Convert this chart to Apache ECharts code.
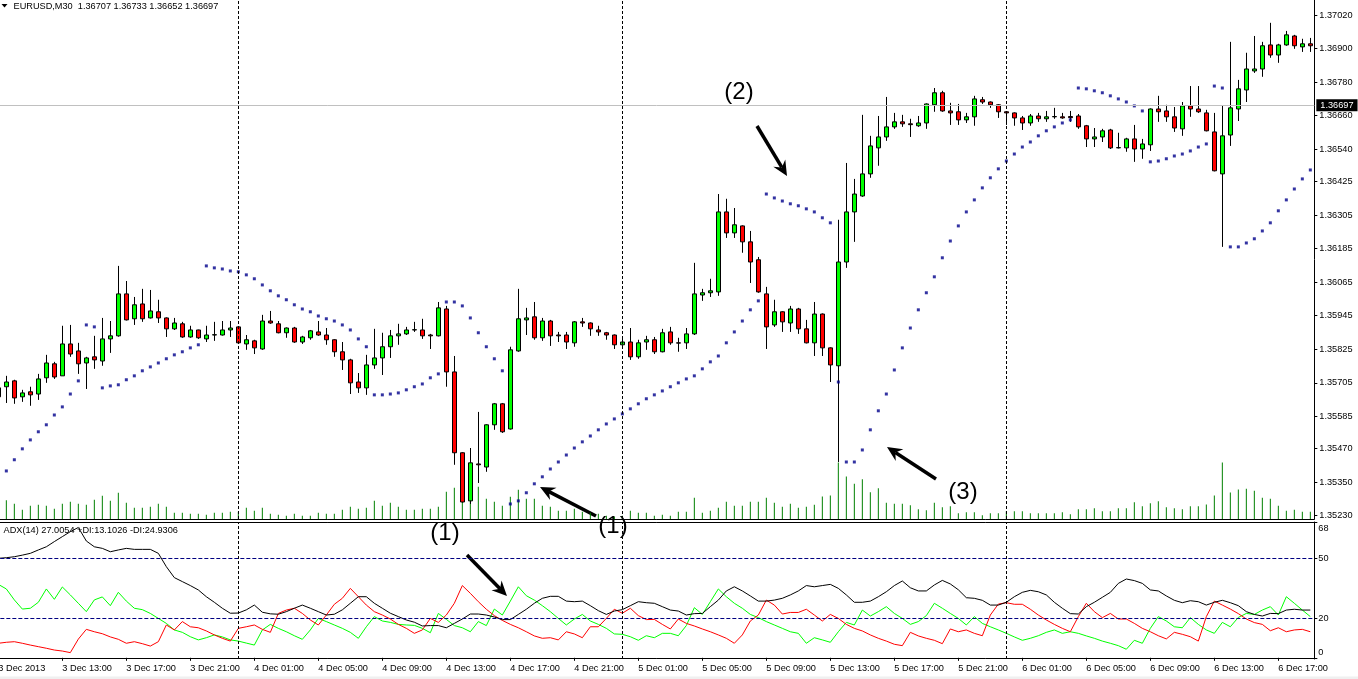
<!DOCTYPE html>
<html><head><meta charset="utf-8">
<script src="https://cdn.jsdelivr.net/npm/echarts@6/dist/echarts.min.js"></script>
<style>html,body{margin:0;padding:0;background:#fff;overflow:hidden}#c{width:1358px;height:679px}</style>
</head><body><div id="c"></div>
<script>
// ---------- DATA ----------
const timeTickLabels = ["3 Dec 2013","3 Dec 13:00","3 Dec 17:00","3 Dec 21:00","4 Dec 01:00","4 Dec 05:00","4 Dec 09:00","4 Dec 13:00","4 Dec 17:00","4 Dec 21:00","5 Dec 01:00","5 Dec 05:00","5 Dec 09:00","5 Dec 13:00","5 Dec 17:00","5 Dec 21:00","6 Dec 01:00","6 Dec 05:00","6 Dec 09:00","6 Dec 13:00","6 Dec 17:00"];
const priceTicks = [1.35230,1.35350,1.35470,1.35585,1.35705,1.35825,1.35945,1.36065,1.36185,1.36305,1.36425,1.36540,1.36660,1.36780,1.36900,1.37020];
const adxTicks = [0,20,50,68];
const adxLevels = [20,50];
const daySeparators = ["4 Dec 00:00","5 Dec 00:00","6 Dec 00:00"];
const lastPrice = 1.36697;

const opens = [1.35687,1.35691,1.35712,1.35655,1.35673,1.35665,1.35723,1.35773,1.35730,1.35844,
1.35819,1.35776,1.35798,1.35783,1.35862,1.35873,1.36023,1.35934,1.35987,1.35937,
1.35959,1.35937,1.35898,1.35916,1.35869,1.35894,1.35862,1.35876,1.35876,1.35894,
1.35905,1.35844,1.35855,1.35826,1.35926,1.35916,1.35884,1.35901,1.35851,1.35866,
1.35887,1.35876,1.35859,1.35816,1.35787,1.35708,1.35687,1.35769,1.35794,1.35834,
1.35873,1.35880,1.35894,1.35894,1.35876,1.35873,1.35969,1.35744,1.35455,1.35283,
1.35415,1.35404,1.35555,1.35630,1.35540,1.35819,1.35930,1.35941,1.35866,1.35926,
1.35876,1.35876,1.35848,1.35923,1.35919,1.35894,1.35884,1.35876,1.35841,1.35851,
1.35798,1.35851,1.35859,1.35816,1.35887,1.35848,1.35848,1.35880,1.36019,1.36027,
1.36030,1.36316,1.36241,1.36266,1.36209,1.36145,1.36023,1.35912,1.35959,1.35919,
1.35969,1.35898,1.35848,1.35951,1.35830,1.35766,1.36137,1.36316,1.36373,1.36452,
1.36545,1.36584,1.36620,1.36638,1.36631,1.36624,1.36634,1.36699,1.36742,1.36677,
1.36674,1.36645,1.36656,1.36717,1.36709,1.36699,1.36674,1.36670,1.36652,1.36634,
1.36659,1.36649,1.36656,1.36656,1.36657,1.36659,1.36624,1.36577,1.36584,1.36609,
1.36545,1.36545,1.36577,1.36541,1.36556,1.36684,1.36677,1.36656,1.36613,1.36695,
1.36684,1.36670,1.36602,1.36452,1.36591,1.36684,1.36752,1.36820,1.36827,1.36913,
1.36877,1.36913,1.36945,1.36906,1.36917];
const closes = [1.35655,1.35708,1.35651,1.35669,1.35662,1.35719,1.35776,1.35726,1.35844,1.35808,
1.35773,1.35794,1.35787,1.35862,1.35873,1.36023,1.35930,1.35984,1.35934,1.35962,
1.35937,1.35898,1.35919,1.35869,1.35894,1.35866,1.35876,1.35877,1.35894,1.35901,
1.35848,1.35859,1.35830,1.35926,1.35919,1.35884,1.35901,1.35851,1.35869,1.35891,
1.35876,1.35859,1.35816,1.35787,1.35705,1.35687,1.35769,1.35794,1.35834,1.35873,
1.35880,1.35894,1.35895,1.35873,1.35873,1.35973,1.35744,1.35455,1.35279,1.35419,
1.35412,1.35555,1.35630,1.35530,1.35823,1.35934,1.35937,1.35866,1.35926,1.35873,
1.35873,1.35851,1.35923,1.35919,1.35898,1.35887,1.35876,1.35841,1.35851,1.35798,
1.35848,1.35859,1.35816,1.35884,1.35848,1.35847,1.35880,1.36023,1.36027,1.36034,
1.36316,1.36241,1.36270,1.36209,1.36137,1.36030,1.35905,1.35959,1.35923,1.35969,
1.35898,1.35848,1.35951,1.35830,1.35769,1.36137,1.36316,1.36380,1.36452,1.36552,
1.36584,1.36620,1.36638,1.36631,1.36628,1.36634,1.36702,1.36742,1.36677,1.36670,
1.36645,1.36656,1.36720,1.36709,1.36699,1.36674,1.36670,1.36652,1.36634,1.36659,
1.36649,1.36656,1.36657,1.36652,1.36653,1.36620,1.36577,1.36584,1.36606,1.36545,
1.36546,1.36577,1.36541,1.36559,1.36684,1.36674,1.36656,1.36616,1.36695,1.36684,
1.36674,1.36606,1.36463,1.36588,1.36688,1.36756,1.36827,1.36827,1.36910,1.36877,
1.36913,1.36949,1.36910,1.36917,1.36910];
const lows = [1.35651,1.35633,1.35630,1.35637,1.35623,1.35644,1.35705,1.35719,1.35730,1.35798,
1.35737,1.35683,1.35755,1.35766,1.35812,1.35870,1.35928,1.35912,1.35923,1.35935,
1.35919,1.35869,1.35894,1.35866,1.35866,1.35862,1.35851,1.35855,1.35874,1.35869,
1.35846,1.35823,1.35808,1.35823,1.35916,1.35882,1.35866,1.35848,1.35844,1.35859,
1.35873,1.35841,1.35798,1.35751,1.35665,1.35669,1.35662,1.35755,1.35733,1.35794,
1.35841,1.35876,1.35887,1.35862,1.35826,1.35871,1.35691,1.35412,1.35277,1.35272,
1.35347,1.35387,1.35537,1.35526,1.35538,1.35816,1.35876,1.35859,1.35855,1.35837,
1.35851,1.35826,1.35834,1.35905,1.35873,1.35873,1.35859,1.35826,1.35837,1.35787,
1.35791,1.35823,1.35808,1.35814,1.35841,1.35816,1.35826,1.35876,1.35998,1.36012,
1.36016,1.36223,1.36223,1.36170,1.36062,1.36027,1.35826,1.35905,1.35887,1.35887,
1.35880,1.35846,1.35801,1.35801,1.35708,1.35422,1.36116,1.36209,1.36370,1.36438,
1.36481,1.36570,1.36613,1.36620,1.36584,1.36620,1.36613,1.36674,1.36674,1.36627,
1.36627,1.36634,1.36624,1.36702,1.36688,1.36652,1.36627,1.36624,1.36609,1.36624,
1.36638,1.36638,1.36649,1.36649,1.36638,1.36613,1.36548,1.36548,1.36566,1.36541,
1.36543,1.36531,1.36495,1.36506,1.36534,1.36638,1.36638,1.36602,1.36588,1.36656,
1.36670,1.36604,1.36461,1.36191,1.36552,1.36641,1.36709,1.36813,1.36799,1.36867,
1.36849,1.36910,1.36899,1.36888,1.36888];
const highs = [1.35690,1.35730,1.35716,1.35680,1.35691,1.35737,1.35805,1.35780,1.35909,1.35912,
1.35848,1.35798,1.35873,1.35937,1.35926,1.36123,1.36069,1.36012,1.36041,1.36037,
1.36002,1.35939,1.35937,1.35923,1.35909,1.35895,1.35909,1.35923,1.35926,1.35926,
1.35907,1.35876,1.35859,1.35948,1.35962,1.35926,1.35903,1.35905,1.35873,1.35894,
1.35926,1.35901,1.35861,1.35851,1.35791,1.35740,1.35805,1.35898,1.35884,1.35894,
1.35916,1.35905,1.35923,1.35934,1.35880,1.35994,1.35980,1.35801,1.35457,1.35472,
1.35601,1.35557,1.35633,1.35633,1.35834,1.36041,1.35973,1.35994,1.35937,1.35930,
1.35887,1.35887,1.35926,1.35937,1.35921,1.35909,1.35887,1.35878,1.35869,1.35901,
1.35859,1.35873,1.35869,1.35898,1.35905,1.35866,1.35901,1.36134,1.36041,1.36077,
1.36380,1.36363,1.36330,1.36268,1.36248,1.36155,1.36048,1.36002,1.35961,1.35980,
1.35973,1.35930,1.35994,1.35953,1.35832,1.36288,1.36491,1.36434,1.36663,1.36588,
1.36659,1.36727,1.36670,1.36663,1.36649,1.36659,1.36704,1.36759,1.36749,1.36706,
1.36702,1.36670,1.36731,1.36727,1.36711,1.36701,1.36676,1.36672,1.36659,1.36666,
1.36670,1.36677,1.36688,1.36670,1.36677,1.36666,1.36627,1.36616,1.36613,1.36613,
1.36599,1.36581,1.36627,1.36577,1.36686,1.36731,1.36699,1.36691,1.36709,1.36766,
1.36766,1.36681,1.36670,1.36695,1.36924,1.36788,1.36885,1.36945,1.36924,1.36992,
1.36917,1.36963,1.36949,1.36935,1.36938];
const sar = [null,1.35390,1.35430,1.35469,1.35501,1.35530,1.35555,1.35590,1.35619,1.35665,
1.35712,1.35912,1.35905,1.35687,1.35694,1.35698,1.35716,1.35730,1.35748,1.35762,
1.35776,1.35791,1.35805,1.35816,1.35830,1.35841,1.36123,1.36116,1.36112,1.36105,
1.36102,1.36091,1.36077,1.36055,1.36034,1.36016,1.36002,1.35984,1.35969,1.35959,
1.35944,1.35934,1.35926,1.35912,1.35894,1.35862,1.35834,1.35662,1.35662,1.35665,
1.35669,1.35680,1.35691,1.35701,1.35723,1.35737,1.35994,1.35994,1.35980,1.35937,
1.35884,1.35834,1.35791,1.35748,1.35272,1.35283,1.35312,1.35344,1.35369,1.35397,
1.35422,1.35447,1.35472,1.35494,1.35515,1.35537,1.35558,1.35576,1.35594,1.35612,
1.35630,1.35648,1.35662,1.35676,1.35691,1.35705,1.35719,1.35730,1.35755,1.35780,
1.35801,1.35848,1.35887,1.35926,1.35966,1.35998,1.36380,1.36366,1.36355,1.36345,
1.36338,1.36327,1.36316,1.36295,1.36277,1.35708,1.35422,1.35422,1.35465,1.35537,
1.35605,1.35665,1.35751,1.35830,1.35901,1.35966,1.36027,1.36084,1.36152,1.36212,
1.36266,1.36316,1.36359,1.36402,1.36438,1.36470,1.36498,1.36523,1.36548,1.36566,
1.36588,1.36606,1.36620,1.36634,1.36645,1.36759,1.36756,1.36749,1.36742,1.36731,
1.36720,1.36709,1.36695,1.36677,1.36495,1.36498,1.36506,1.36516,1.36523,1.36534,
1.36548,1.36559,1.36766,1.36759,1.36191,1.36191,1.36205,1.36220,1.36248,1.36277,
1.36320,1.36359,1.36398,1.36434,1.36466];
const volumes = [360,561,459,279,399,429,399,309,459,519,
459,429,579,699,549,789,489,339,339,369,
459,369,189,189,159,159,129,189,189,219,
219,339,249,339,159,129,99,159,99,99,
189,159,159,279,369,309,339,549,399,489,
369,279,279,309,309,369,819,939,519,681,
969,609,519,399,669,879,609,609,399,369,
249,249,309,219,189,159,99,69,99,249,
189,189,99,129,99,219,219,639,189,249,
339,519,399,399,519,519,639,489,369,459,
339,369,429,675,705,1695,1275,1059,1191,801,
921,489,459,459,411,291,261,489,351,381,
171,201,201,111,171,171,231,231,231,171,
171,171,171,201,141,291,291,321,231,231,
321,321,501,381,471,531,351,321,291,381,
381,435,705,1695,795,885,909,849,639,609,
399,249,279,219,219];
const adx = [50.0,50.3,50.8,51.6,52.5,54.2,55.8,58.4,60.9,63.4,
65.5,58.7,55.8,55.0,53.3,54.2,55.0,54.5,54.5,54.5,
52.5,45.8,40.3,38.3,36.3,34.1,30.7,27.9,24.9,22.4,
22.5,24.1,26.5,22.9,22.1,21.9,23.2,24.9,26.5,24.9,
23.2,21.5,21.9,24.1,27.4,30.7,30.7,27.4,24.9,22.4,
20.7,19.0,17.9,16.0,16.2,16.2,15.1,17.3,19.5,22.0,
22.0,21.5,20.5,19.2,19.2,21.8,24.4,27.4,29.9,30.9,
30.9,28.5,28.2,28.5,26.2,23.7,21.8,23.5,24.2,26.2,
28.2,27.7,27.4,25.7,24.0,23.5,21.5,22.2,22.3,25.7,
29.0,33.6,35.7,33.6,31.1,28.5,28.5,29.0,29.9,31.6,
33.6,36.3,35.7,36.3,36.9,34.9,31.6,27.9,27.9,28.5,
30.7,33.2,36.3,38.6,35.2,33.6,33.6,36.6,38.9,37.1,
34.2,30.2,29.9,28.9,26.5,26.5,27.9,30.7,32.9,33.9,
33.2,31.6,27.9,24.9,22.2,22.0,25.7,27.9,30.4,32.9,
37.4,39.6,38.8,37.4,34.1,33.6,31.1,28.9,27.7,28.7,
28.2,26.5,27.9,28.9,27.7,26.2,23.2,21.8,21.0,22.3,
22.2,24.0,24.4,24.0,24.0];
const plusDI = [36.9,34.6,29.1,24.5,24.9,27.9,34.6,29.4,35.6,31.6,
27.4,23.2,29.1,30.6,26.2,32.9,28.5,24.9,24.2,22.3,
19.8,17.3,14.0,12.8,10.6,9.0,10.1,11.5,10.5,9.0,
8.4,7.4,6.4,14.0,16.8,14.8,13.1,11.1,9.3,14.0,
19.8,18.2,16.5,14.8,12.8,9.8,15.6,20.7,18.5,17.8,
16.8,16.5,16.3,14.8,12.6,22.3,19.3,16.2,15.1,13.1,
18.2,16.2,24.5,21.5,28.5,35.7,31.2,29.0,26.2,23.2,
19.8,16.5,19.5,21.8,18.5,16.8,14.8,12.0,11.8,10.6,
8.8,11.1,10.1,12.3,12.3,11.1,16.2,25.2,21.8,28.2,
34.6,30.7,27.4,24.9,21.8,20.2,18.2,16.5,14.8,13.1,
12.3,7.3,10.1,9.0,7.8,13.1,17.8,16.5,24.0,21.0,
23.2,25.7,22.3,19.8,16.8,18.2,21.2,27.4,24.9,22.3,
19.8,16.5,20.7,17.3,15.6,14.0,12.3,10.5,8.8,9.8,
11.1,12.8,14.0,12.3,13.1,12.3,11.0,9.8,8.4,7.3,
6.1,4.3,8.8,7.3,14.8,20.7,18.5,15.6,15.1,20.2,
16.8,14.0,12.3,17.8,15.6,20.3,22.3,21.8,24.0,25.7,
21.5,30.7,27.4,24.0,20.7];
const minusDI = [7.3,7.8,8.1,7.3,6.4,5.6,4.8,3.9,3.4,2.6,
9.4,14.3,13.1,12.1,10.5,9.3,7.3,8.1,7.1,5.9,
8.1,16.5,14.0,18.2,15.6,15.1,13.5,11.5,9.8,8.4,
14.8,15.6,16.5,14.3,12.8,22.3,24.0,24.9,22.3,19.0,
16.5,21.5,26.9,29.9,34.9,30.7,26.5,23.2,21.5,19.5,
16.8,14.8,12.3,14.0,19.8,17.8,21.5,27.4,36.3,32.4,
28.2,24.4,21.2,18.8,16.8,15.1,13.1,11.0,9.8,10.1,
9.0,13.1,12.0,10.1,15.6,15.6,19.8,24.4,22.4,24.9,
21.2,19.2,19.3,16.8,14.5,19.5,17.3,16.0,14.5,13.1,
11.5,9.8,7.3,11.5,18.5,21.5,29.0,26.5,22.0,22.8,
22.8,24.4,21.5,18.5,21.8,19.8,16.8,14.8,13.5,11.5,
9.8,8.4,6.8,6.1,12.8,11.0,9.8,8.8,7.1,14.5,
13.1,14.0,12.3,11.1,21.5,27.0,27.7,26.9,26.9,24.4,
21.5,19.0,16.8,14.8,13.1,20.7,27.4,23.2,20.2,22.3,
19.5,19.5,17.3,14.8,13.1,11.1,9.5,12.8,11.8,10.6,
8.4,20.7,28.5,26.5,24.5,22.2,19.5,17.7,16.8,13.6,
15.1,13.1,14.0,14.3,13.1];

// categories: consecutive M30 bars starting 3 Dec 2013 09:00
const categories = [];
(function () {
  const start = Date.UTC(2013, 11, 3, 9, 0);
  const pad = n => (n < 10 ? '0' : '') + n;
  for (let i = 0; i < opens.length; i++) {
    const d = new Date(start + i * 1800000);
    categories.push(d.getUTCDate() + ' Dec ' + pad(d.getUTCHours()) + ':' + pad(d.getUTCMinutes()));
  }
})();

// ---------- CHART ----------
const FONT = '"Liberation Sans", Arial, sans-serif';
const FS = 9.2;
const candleData = opens.map((o, i) => [o, closes[i], lows[i], highs[i]]);
const every8 = idx => idx % 8 === 0;

function arrow(x1, y1, x2, y2) {
  const dx = x2 - x1, dy = y2 - y1, len = Math.hypot(dx, dy);
  const ux = dx / len, uy = dy / len, px = -uy, py = ux;
  const hl = 15, hw = 7, notch = 10;
  const bx = x2 - ux * hl, by = y2 - uy * hl;
  const nx = x2 - ux * notch, ny = y2 - uy * notch;
  return [
    {type: 'line', silent: true, shape: {x1: x1, y1: y1, x2: nx, y2: ny}, style: {stroke: '#000', lineWidth: 3.5}},
    {type: 'polygon', silent: true, shape: {points: [[x2, y2], [bx + px * hw, by + py * hw], [nx, ny], [bx - px * hw, by - py * hw]]}, style: {fill: '#000'}}
  ];
}
function label(t, x, y) {
  return {type: 'text', silent: true, x: x, y: y, style: {text: t, fill: '#000', font: '24px ' + FONT, align: 'center', verticalAlign: 'middle'}};
}

const sepLine = {color: '#000', type: [3, 2], width: 1};
const chart = echarts.init(document.getElementById('c'), null, {renderer: 'canvas'});
chart.setOption({
  animation: false,
  backgroundColor: '#ffffff',
  textStyle: {fontFamily: FONT},
  grid: [
    {left: -5.667, top: 0, width: 1320, height: 519, containLabel: false, outerBoundsMode: 'none'},
    {left: -5.667, top: 522, width: 1320, height: 137, containLabel: false, outerBoundsMode: 'none'}
  ],
  xAxis: [
    {type: 'category', gridIndex: 0, data: categories, boundaryGap: true,
     axisLine: {show: true, lineStyle: {color: '#000', width: 1}}, axisTick: {show: false}, axisLabel: {show: false}, splitLine: {show: false}},
    {type: 'category', gridIndex: 1, data: categories, boundaryGap: true, position: 'bottom',
     axisLine: {show: true, lineStyle: {color: '#000', width: 1}},
     axisTick: {show: true, alignWithLabel: true, interval: every8, length: 3, lineStyle: {color: '#000'}},
     axisLabel: {show: true, interval: every8, align: 'left', margin: 5, color: '#000', fontSize: FS, fontFamily: FONT,
       formatter: (v, idx) => (idx % 8 === 0 ? timeTickLabels[idx / 8] : '')},
     splitLine: {show: false}},
    {type: 'category', gridIndex: 1, data: categories, position: 'top',
     axisLine: {show: true, lineStyle: {color: '#000', width: 1}}, axisTick: {show: false}, axisLabel: {show: false}, splitLine: {show: false}}
  ],
  yAxis: [
    {type: 'value', gridIndex: 0, position: 'right', min: 1.352182, max: 1.370736,
     axisLine: {show: true, onZero: false, lineStyle: {color: '#000'}},
     axisTick: {show: true, customValues: priceTicks, length: 3, lineStyle: {color: '#000'}},
     axisLabel: {show: true, customValues: priceTicks, margin: 5, color: '#000', fontSize: FS, fontFamily: FONT,
       formatter: v => Number(v).toFixed(5)},
     splitLine: {show: false}},
    {type: 'value', gridIndex: 0, min: 0, max: 15570, show: false, splitLine: {show: false}},
    {type: 'value', gridIndex: 1, position: 'right', min: -0.6, max: 68.25,
     axisLine: {show: true, onZero: false, lineStyle: {color: '#000'}},
     axisTick: {show: true, customValues: adxTicks, length: 3, lineStyle: {color: '#000'}},
     axisLabel: {show: true, customValues: adxTicks, margin: 4, color: '#000', fontSize: FS, fontFamily: FONT,
       formatter: v => (v >= 68 ? '{t|68}' : (v <= 0 ? '{b|0}' : String(Math.round(v)))),
       rich: {t: {padding: [12, 0, 0, 0], fontSize: FS, color: '#000'}, b: {padding: [0, 0, 11, 0], fontSize: FS, color: '#000'}}},
     splitLine: {show: false}}
  ],
  series: [
    {type: 'bar', name: 'Volume', xAxisIndex: 0, yAxisIndex: 1, data: volumes, barWidth: 1, z: 1,
     itemStyle: {color: '#008000'}, silent: true},
    {type: 'candlestick', name: 'EURUSD', xAxisIndex: 0, yAxisIndex: 0, data: candleData, barWidth: 4, z: 3,
     itemStyle: {color: '#00ff00', color0: '#ff0000', borderColor: '#000', borderColor0: '#000', borderColorDoji: '#000', borderWidth: 1},
     silent: true,
     markLine: {symbol: ['none', 'none'], silent: true, animation: false,
       data: daySeparators.map(d => ({xAxis: d, lineStyle: sepLine, label: {show: false}}))}},
    {type: 'scatter', name: 'SAR', xAxisIndex: 0, yAxisIndex: 0, data: sar, symbol: 'rect', symbolSize: [3, 3], z: 4,
     itemStyle: {color: '#00008b'}, silent: true,
     markLine: {symbol: ['none', 'none'], silent: true, animation: false, precision: 5,
       data: [{yAxis: lastPrice, lineStyle: {color: '#c0c0c0', type: 'solid', width: 1},
          label: {show: true, position: 'end', distance: 2, formatter: lastPrice.toFixed(5), color: '#fff', backgroundColor: '#000',
                  padding: [2, 4, 1, 4], fontSize: FS, fontFamily: FONT}}]}},
    {type: 'line', name: 'ADX', xAxisIndex: 1, yAxisIndex: 2, data: adx, showSymbol: false, z: 3,
     lineStyle: {color: '#000', width: 1}, silent: true,
     markLine: {symbol: ['none', 'none'], silent: true, animation: false,
       data: adxLevels.map(v => ({yAxis: v, lineStyle: {color: '#000080', type: [4, 2], width: 1}, label: {show: false}}))
         .concat(daySeparators.map(d => ({xAxis: d, lineStyle: sepLine, label: {show: false}})))}},
    {type: 'line', name: '+DI', xAxisIndex: 1, yAxisIndex: 2, data: plusDI, showSymbol: false, z: 2,
     lineStyle: {color: '#00ff00', width: 1}, silent: true},
    {type: 'line', name: '-DI', xAxisIndex: 1, yAxisIndex: 2, data: minusDI, showSymbol: false, z: 2,
     lineStyle: {color: '#ff0000', width: 1}, silent: true}
  ],
  graphic: [
    {type: 'polygon', silent: true, shape: {points: [[1.5, 4], [7.5, 4], [4.5, 7.5]]}, style: {fill: '#000'}},
    {type: 'text', silent: true, x: 13.5, y: 6, style: {text: 'EURUSD,M30  1.36707 1.36733 1.36652 1.36697', fill: '#000', font: FS + 'px ' + FONT, align: 'left', verticalAlign: 'middle'}},
    {type: 'text', silent: true, x: 3.5, y: 530.5, style: {text: 'ADX(14) 27.0054 +DI:13.1026 -DI:24.9306', fill: '#000', font: FS + 'px ' + FONT, align: 'left', verticalAlign: 'middle'}},
    label('(1)', 445, 533),
    label('(1)', 613, 526),
    label('(2)', 739, 92),
    label('(3)', 963, 492),
    ...arrow(596, 516, 540, 487),
    ...arrow(757, 126, 787, 176),
    ...arrow(936, 479, 887, 447),
    ...arrow(467, 555, 507, 596),
    {type: 'rect', silent: true, shape: {x: 0, y: 676.5, width: 1358, height: 3}, style: {fill: '#f0f0f0'}}
  ]
});
</script>
</body></html>
